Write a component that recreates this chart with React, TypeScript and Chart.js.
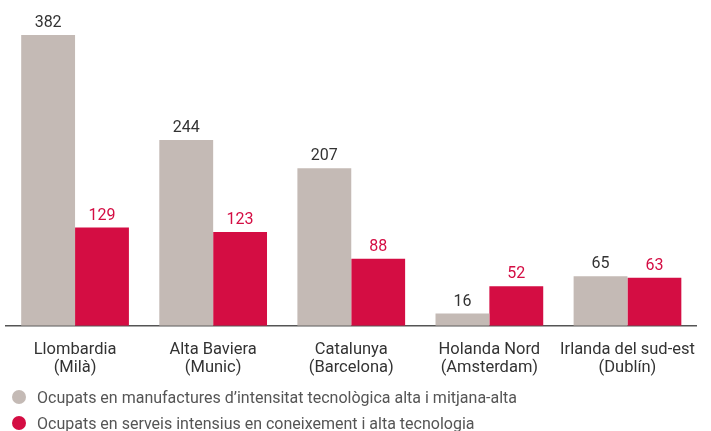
import React, { useEffect, useRef } from "react";
import { Chart, registerables } from "chart.js";

Chart.register(...registerables);

const categories: string[][] = [
  ["Llombardia", "(Milà)"],
  ["Alta Baviera", "(Munic)"],
  ["Catalunya", "(Barcelona)"],
  ["Holanda Nord", "(Amsterdam)"],
  ["Irlanda del sud-est", "(Dublín)"],
];
const manufacturesValues = [382, 244, 207, 16, 65];
const serveisValues = [129, 123, 88, 52, 63];
const seriesNames = [
  "Ocupats en manufactures d’intensitat tecnològica alta i mitjana-alta",
  "Ocupats en serveis intensius en coneixement i alta tecnologia",
];
const GRAY = "#c4bab5";
const RED = "#d40d43";
const FONT = "Roboto, 'Liberation Sans', sans-serif";

const valueLabels = {
  id: "valueLabels",
  afterDatasetsDraw(chart: any) {
    const ctx = chart.ctx;
    ctx.save();
    ctx.font = `16px ${FONT}`;
    ctx.textAlign = "center";
    ctx.textBaseline = "bottom";
    chart.data.datasets.forEach((ds: any, di: number) => {
      const meta = chart.getDatasetMeta(di);
      ctx.fillStyle = di === 0 ? "#333333" : RED;
      meta.data.forEach((bar: any, i: number) => {
        ctx.fillText(String(ds.data[i]), bar.x, bar.y - 4);
      });
    });
    ctx.restore();
  },
};

export default function App() {
  const ref = useRef<HTMLCanvasElement>(null);
  useEffect(() => {
    document.body.style.margin = "0";
    const chart = new Chart(ref.current!, {
      type: "bar",
      data: {
        labels: categories,
        datasets: [
          {
            label: seriesNames[0],
            data: manufacturesValues,
            backgroundColor: GRAY,
            categoryPercentage: 0.78,
            barPercentage: 1,
          },
          {
            label: seriesNames[1],
            data: serveisValues,
            backgroundColor: RED,
            categoryPercentage: 0.78,
            barPercentage: 1,
          },
        ],
      },
      options: {
        animation: false,
        responsive: false,
        maintainAspectRatio: false,
        layout: { padding: { left: 6, right: 11, top: 35, bottom: 39 } },
        plugins: { legend: { display: false }, tooltip: { enabled: false } },
        scales: {
          x: {
            grid: { display: false, drawTicks: false },
            border: { display: true, color: "#555555", width: 1.5 },
            ticks: {
              color: "#333333",
              padding: 15,
              font: { family: FONT, size: 16.5, lineHeight: 1.1 },
              maxRotation: 0,
              autoSkip: false,
            },
          },
          y: { display: false, min: 0, max: 382 },
        },
      },
      plugins: [valueLabels],
    });
    return () => chart.destroy();
  }, []);
  const legendItem = (color: string, text: string, centerY: number) => (
    <div
      style={{
        position: "absolute",
        left: 12,
        top: centerY - 10,
        height: 20,
        display: "flex",
        alignItems: "center",
        fontFamily: FONT,
        fontSize: 16,
        color: "#555555",
        whiteSpace: "nowrap",
      }}
    >
      <span
        style={{
          display: "inline-block",
          width: 14,
          height: 14,
          borderRadius: "50%",
          background: color,
          marginRight: 11,
        }}
      />
      {text}
    </div>
  );
  return (
    <div style={{ position: "relative", width: 711, height: 431, background: "#fff" }}>
      <canvas ref={ref} width={711} height={431} style={{ position: "absolute", left: 0, top: 0 }} />
      {legendItem(GRAY, seriesNames[0], 397)}
      {legendItem(RED, seriesNames[1], 423)}
    </div>
  );
}
